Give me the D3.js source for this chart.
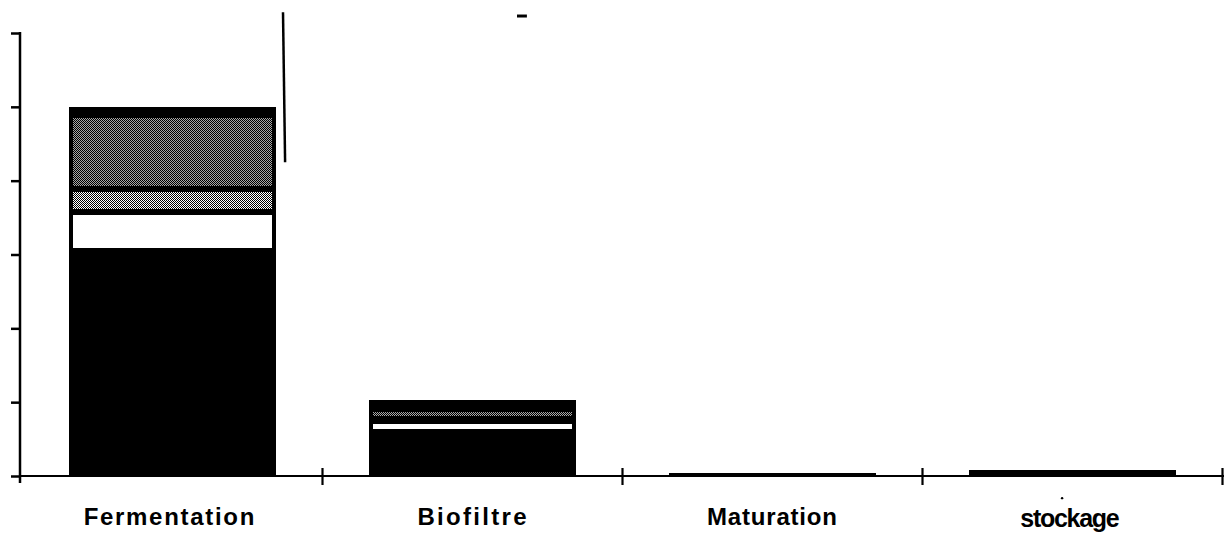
<!DOCTYPE html>
<html><head><meta charset="utf-8">
<script src="https://cdn.jsdelivr.net/npm/d3@7"></script>
<style>html,body{margin:0;padding:0;background:#fff;} svg{display:block}</style>
</head><body><svg id="c" width="1231" height="540"></svg>
<script>
// ---- data ----
const categories = ["Fermentation", "Biofiltre", "Maturation", "stockage"];
const seriesKeys = ["s1", "s2", "s3", "s4", "s5"];
const s1 = [30.5, 5.9, 0.4, 0.8];   // solid black (bottom)
const s2 = [5.3, 1.6, 0, 0];        // white
const s3 = [3.1, 0.2, 0, 0];        // light stipple
const s4 = [10.0, 1.4, 0, 0];       // dense stipple
const s5 = [1.1, 1.2, 0, 0];        // solid black (top)
const yTicks = [0, 10, 20, 30, 40, 50, 60];
const xTicks = [1, 2, 3, 4];
// scan marks of the original page, in data units (band index, value)
const scanLines = [
  {x0: 0.870, y0: 62.8, x1: 0.877, y1: 42.5, w: 2.5},
  {x0: 1.650, y0: 62.3, x1: 1.683, y1: 62.3, w: 3}
];
const scanDots = [{x: 3.467, y: -3.0, r: 1.2}];

// ---- build ----
const table = categories.map((c, i) => ({cat: c, s1: s1[i], s2: s2[i], s3: s3[i], s4: s4[i], s5: s5[i]}));
const stack = d3.stack().keys(seriesKeys)(table);

const svg = d3.select("#c");
const defs = svg.append("defs");
function makePattern(id, w, h, bg, pts) {
  const p = defs.append("pattern").attr("id", id).attr("patternUnits", "userSpaceOnUse")
    .attr("width", w).attr("height", h);
  p.append("rect").attr("width", w).attr("height", h).attr("fill", bg);
  pts.forEach(q => p.append("rect").attr("x", q[0]).attr("y", q[1]).attr("width", 1).attr("height", 1).attr("fill", "#000"));
}
// dense stipple
makePattern("dense", 2, 2, "#a8a8a8", [[0,0],[1,1]]);
// light stipple
makePattern("light", 2, 2, "#ffffff", [[0,0],[1,1]]);

const fills = {s1: null, s2: "#fff", s3: "url(#light)", s4: "url(#dense)", s5: null};

const y = d3.scaleLinear().domain([0, 60]).range([476, 33]);
const x = d3.scaleBand().domain(categories).range([22, 1222]).paddingInner(0.31).paddingOuter(0.155);
const xl = d3.scaleLinear().domain([0, 4]).range([22, 1222]);

const insH = 4, insV = 3;

// outer black blocks
const outer = svg.append("g").attr("shape-rendering", "crispEdges");
stack.forEach(layer => {
  outer.selectAll(null).data(layer).enter().append("rect")
    .attr("x", d => x(d.data.cat))
    .attr("width", x.bandwidth())
    .attr("y", d => y(d[1]))
    .attr("height", d => Math.max(0, y(d[0]) - y(d[1])))
    .attr("fill", "#000");
});
// inner fills
const inner = svg.append("g").attr("shape-rendering", "crispEdges");
stack.forEach(layer => {
  const f = fills[layer.key];
  if (!f) return;
  inner.selectAll(null).data(layer.filter(d => (y(d[0]) - y(d[1])) > 2 * insV + 1)).enter().append("rect")
    .attr("x", d => x(d.data.cat) + insH)
    .attr("width", x.bandwidth() - 2 * insH)
    .attr("y", d => y(d[1]) + insV)
    .attr("height", d => y(d[0]) - y(d[1]) - 2 * insV)
    .attr("fill", f);
});

// y axis
const gy = svg.append("g").attr("transform", "translate(20,0)")
  .call(d3.axisLeft(y).tickValues(yTicks).tickSize(9).tickSizeOuter(0).tickFormat(""));
gy.select(".domain").remove();
gy.selectAll(".tick line").attr("stroke", "#000").attr("stroke-width", 2.5);
gy.append("line").attr("x1", 0).attr("x2", 0).attr("y1", y(60) - 1).attr("y2", y(0) + 7)
  .attr("stroke", "#000").attr("stroke-width", 2.5);

// x axis
const gx = svg.append("g").attr("transform", `translate(0,${y(0)})`)
  .call(d3.axisBottom(xl).tickValues(xTicks).tickSize(9).tickSizeOuter(0).tickFormat(""));
gx.select(".domain").remove();
gx.selectAll(".tick line").attr("y1", -8).attr("y2", 9).attr("stroke", "#000").attr("stroke-width", 2.2);
gx.append("line").attr("x1", 19).attr("x2", xl(4) + 2).attr("y1", 0).attr("y2", 0)
  .attr("stroke", "#000").attr("stroke-width", 2.2);

// category labels
const labelStyle = {
  Fermentation: {size: 24, ls: 1.7, y: 525, dx: -3},
  Biofiltre: {size: 24, ls: 2.3, y: 525, dx: 0},
  Maturation: {size: 24, ls: 0.8, y: 525, dx: 0},
  stockage: {size: 25, ls: -1.3, y: 527, dx: -2}
};
svg.append("g").selectAll("text").data(categories).enter().append("text")
  .attr("x", d => x(d) + x.bandwidth() / 2 + labelStyle[d].ls / 2 + labelStyle[d].dx)
  .attr("y", d => labelStyle[d].y)
  .attr("text-anchor", "middle")
  .attr("font-family", "'Liberation Sans', Arial, Helvetica, sans-serif")
  .attr("font-weight", "bold")
  .attr("font-size", d => labelStyle[d].size)
  .style("letter-spacing", d => labelStyle[d].ls + "px")
  .attr("fill", "#000")
  .text(d => d);

// scan marks
svg.append("g").selectAll("line").data(scanLines).enter().append("line")
  .attr("x1", d => xl(d.x0)).attr("y1", d => y(d.y0))
  .attr("x2", d => xl(d.x1)).attr("y2", d => y(d.y1))
  .attr("stroke", "#000").attr("stroke-width", d => d.w);
svg.append("g").selectAll("circle").data(scanDots).enter().append("circle")
  .attr("cx", d => xl(d.x)).attr("cy", d => y(d.y)).attr("r", d => d.r).attr("fill", "#000");
</script>
</body></html>
